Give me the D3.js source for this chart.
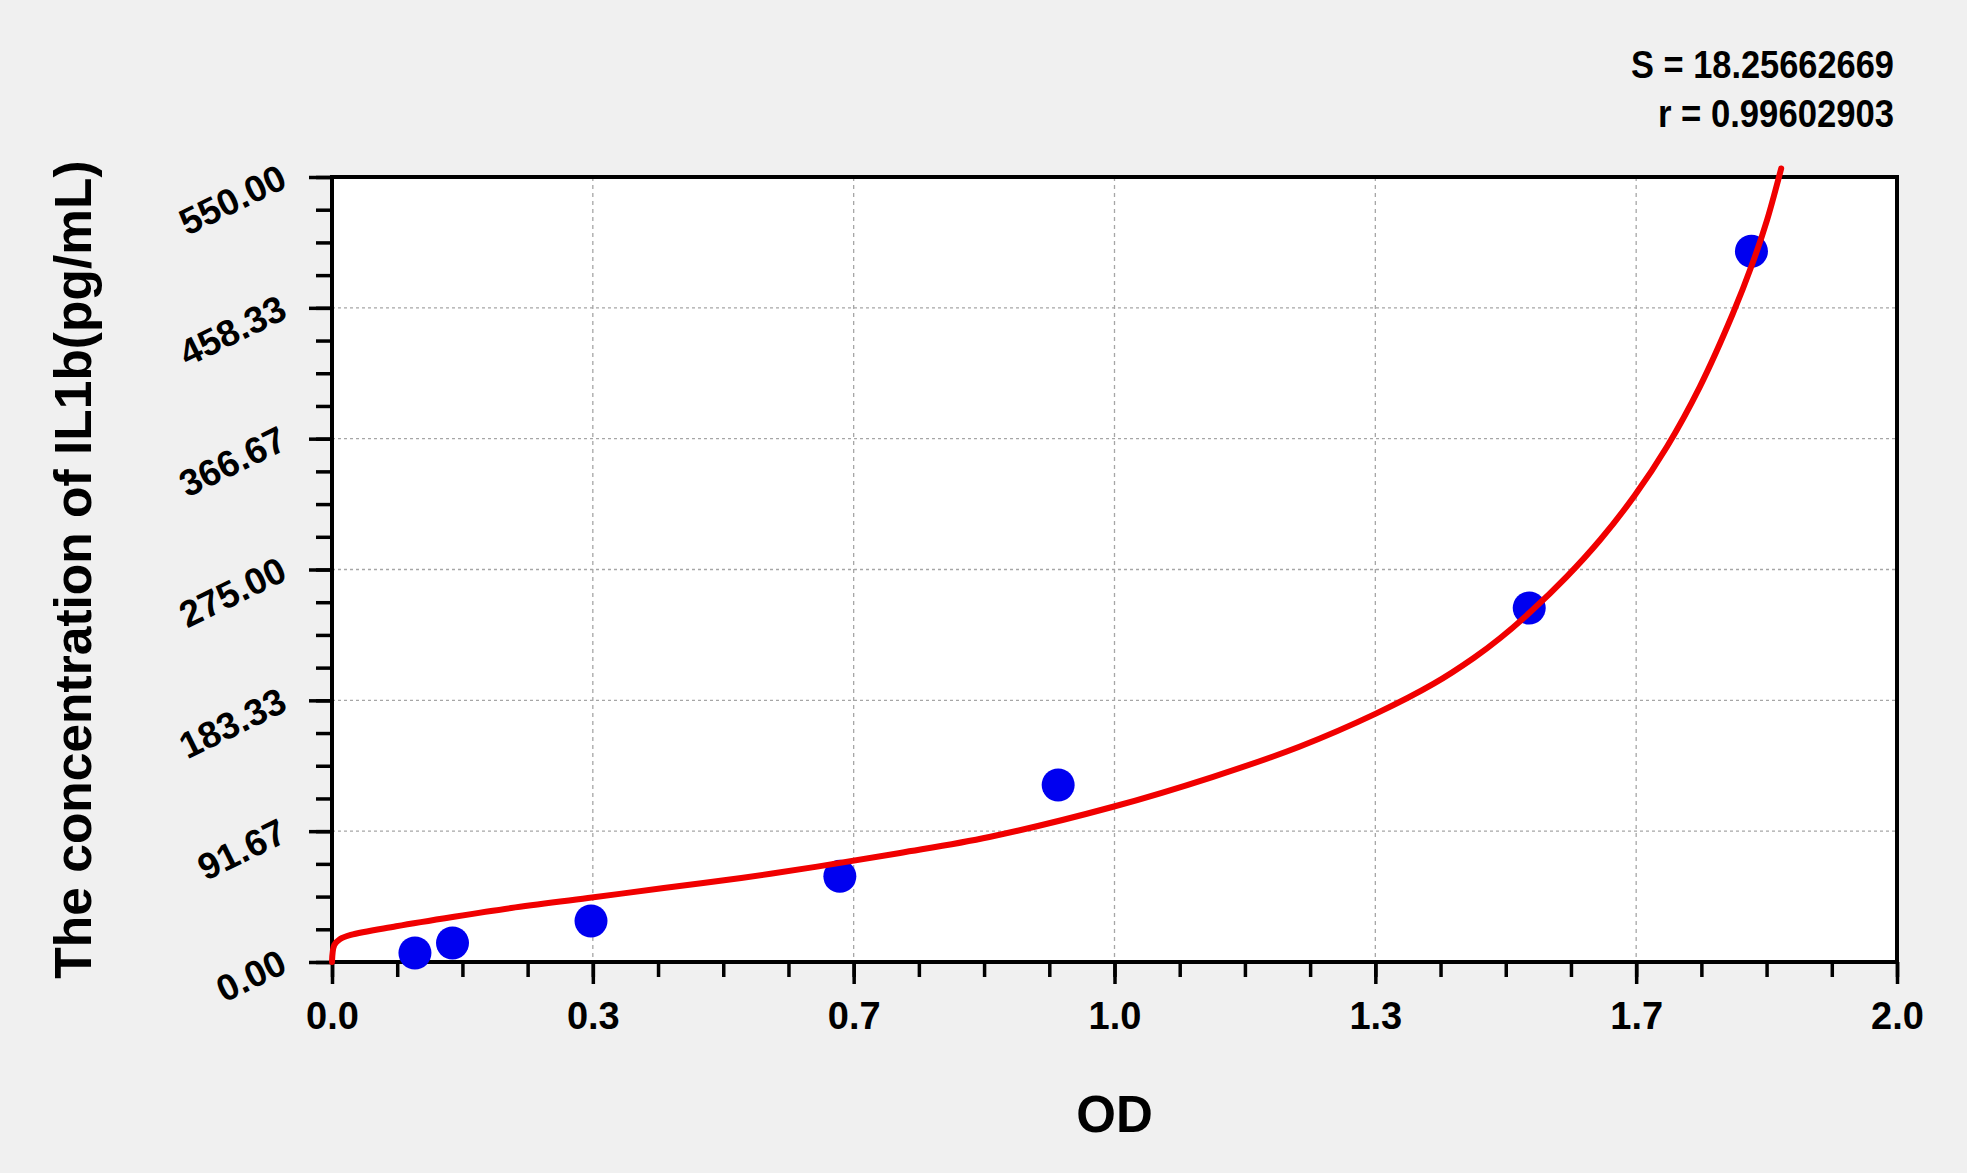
<!DOCTYPE html>
<html>
<head>
<meta charset="utf-8">
<script src="https://cdn.jsdelivr.net/npm/d3@7"></script>
<style>
  html, body { margin: 0; padding: 0; background: #f0f0f0; }
  svg { display: block; font-family: "Liberation Sans", Arial, sans-serif; font-weight: bold; }
</style>
</head>
<body>
<div id="chart"></div>
<script>
// standards
const stdOD = [0.106, 0.154, 0.331, 0.649, 0.928, 1.530, 1.814]
const stdConc = [6.3, 13.3, 28.7, 60, 124, 248, 498]

// fitted curve, sampled by eye along the red line
const curveOD = [0, 0.003, 0.010, 0.024, 0.082, 0.156, 0.229, 0.327, 0.424, 0.523, 0.620, 0.726,
  0.840, 0.997, 1.125, 1.237, 1.334, 1.408, 1.459, 1.493, 1.531, 1.578, 1.621, 1.665, 1.706,
  1.748, 1.790, 1.815, 1.834, 1.852]
const curveConc = [0, 12, 16, 19, 25, 31.7, 37.8, 44.8, 51.8, 58.9, 66.8, 76.4,
  87.6, 108.6, 129.6, 151, 174, 195, 213, 227, 245, 270, 296, 327, 361,
  403, 454, 489, 520, 556]

const xTicks = [0, 1 / 3, 2 / 3, 1, 4 / 3, 5 / 3, 2]
const xTickLabels = ["0.0", "0.3", "0.7", "1.0", "1.3", "1.7", "2.0"]
const yTicks = [0, 550 / 6, 1100 / 6, 275, 2200 / 6, 2750 / 6, 550]
const yTickLabels = ["0.00", "91.67", "183.33", "275.00", "366.67", "458.33", "550.00"]

const stats = ["S = 18.25662669", "r = 0.99602903"]
const statWidths = [263, 236]

const width = 1967
const height = 1173
const margin = {top: 177, right: 70, bottom: 211, left: 332}

const svg = d3.select("#chart").append("svg")
  .attr("width", width)
  .attr("height", height)
  .attr("viewBox", [0, 0, width, height])

svg.append("rect")
  .attr("width", width).attr("height", height)
  .attr("fill", "#f0f0f0")

const x = d3.scaleLinear()
  .domain([0, 2])
  .range([margin.left, width - margin.right])

const y = d3.scaleLinear()
  .domain([0, 550])
  .range([height - margin.bottom, margin.top])

const minorX = d3.range(0, 25).map(i => i / 12)
const minorY = d3.range(0, 25).map(i => i * 550 / 24)

// plot area
svg.append("rect")
  .attr("x", x(0)).attr("y", y(550))
  .attr("width", x(2) - x(0)).attr("height", y(0) - y(550))
  .attr("fill", "#fff")

// grid
const grid = svg.append("g")
  .attr("stroke", "#a6a6a6")
  .attr("stroke-width", 1.3)

grid.selectAll("line.vx")
  .data(xTicks.slice(1, -1))
  .join("line")
    .attr("class", "vx")
    .attr("x1", d => x(d)).attr("x2", d => x(d))
    .attr("y1", y(550)).attr("y2", y(0))
    .attr("stroke-dasharray", "4,4")

grid.selectAll("line.hy")
  .data(yTicks.slice(1, -1))
  .join("line")
    .attr("class", "hy")
    .attr("x1", x(0)).attr("x2", x(2))
    .attr("y1", d => y(d)).attr("y2", d => y(d))
    .attr("stroke-dasharray", "3,3")

// axes
const xAxisMinor = d3.axisBottom(x).tickValues(minorX).tickSize(15).tickFormat("")
const xAxis = d3.axisBottom(x)
  .tickValues(xTicks)
  .tickSize(22)
  .tickPadding(18)
  .tickFormat((d, i) => xTickLabels[i])

const yAxisMinor = d3.axisLeft(y).tickValues(minorY).tickSize(16).tickFormat("")
const yAxis = d3.axisLeft(y)
  .tickValues(yTicks)
  .tickSize(23)
  .tickFormat((d, i) => yTickLabels[i])

const styleAxis = g => g
  .call(g => g.select(".domain").remove())
  .call(g => g.selectAll(".tick line").attr("stroke", "#000").attr("stroke-width", 3.5))

svg.append("g")
  .attr("transform", `translate(0,${y(0)})`)
  .call(xAxisMinor).call(styleAxis)

svg.append("g")
  .attr("transform", `translate(0,${y(0)})`)
  .call(xAxis).call(styleAxis)
  .attr("font-family", null)
  .call(g => g.selectAll(".tick text")
    .attr("fill", "#000")
    .attr("font-size", 38))

svg.append("g")
  .attr("transform", `translate(${x(0)},0)`)
  .call(yAxisMinor).call(styleAxis)

svg.append("g")
  .attr("transform", `translate(${x(0)},0)`)
  .call(yAxis).call(styleAxis)
  .attr("font-family", null)
  .call(g => g.selectAll(".tick text")
    .attr("fill", "#000")
    .attr("font-size", 37)
    .attr("x", null)
    .attr("dy", null)
    .attr("text-anchor", "end")
    .attr("transform", "translate(-43,9) rotate(-26)"))

// frame
svg.append("rect")
  .attr("x", x(0)).attr("y", y(550))
  .attr("width", x(2) - x(0)).attr("height", y(0) - y(550))
  .attr("fill", "none")
  .attr("stroke", "#000")
  .attr("stroke-width", 4)

// standards
svg.append("g")
  .attr("fill", "#0000f0")
  .selectAll("circle")
  .data(stdOD.map((d, i) => [d, stdConc[i]]))
  .join("circle")
    .attr("cx", d => x(d[0]))
    .attr("cy", d => y(d[1]))
    .attr("r", 16.5)

// fitted curve
const line = d3.line()
  .curve(d3.curveCatmullRom.alpha(0.5))
  .x(d => x(d[0]))
  .y(d => y(d[1]))

svg.append("path")
  .datum(curveOD.map((d, i) => [d, curveConc[i]]))
  .attr("fill", "none")
  .attr("stroke", "#f00000")
  .attr("stroke-width", 6)
  .attr("stroke-linecap", "round")
  .attr("stroke-linejoin", "round")
  .attr("d", line)

// stats
svg.append("g")
  .attr("text-anchor", "end")
  .attr("font-size", 38)
  .selectAll("text")
  .data(stats)
  .join("text")
    .attr("x", 1894)
    .attr("y", (d, i) => 78 + i * 49)
    .attr("textLength", (d, i) => statWidths[i])
    .attr("lengthAdjust", "spacingAndGlyphs")
    .text(d => d)

// axis titles
svg.append("text")
  .attr("x", (x(0) + x(2)) / 2)
  .attr("y", 1132)
  .attr("text-anchor", "middle")
  .attr("font-size", 51)
  .text("OD")

svg.append("text")
  .attr("transform", `translate(91,${(y(0) + y(550)) / 2}) rotate(-90)`)
  .attr("text-anchor", "middle")
  .attr("font-size", 51.5)
  .text("The concentration of IL1b(pg/mL)")
</script>
</body>
</html>
